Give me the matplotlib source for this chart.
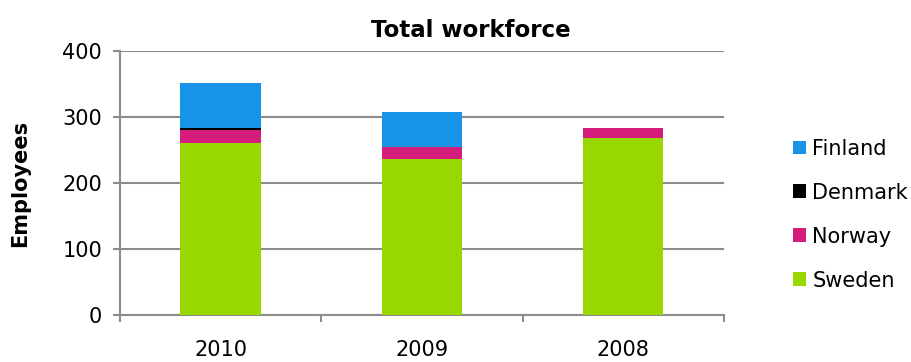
import matplotlib
matplotlib.use("Agg")
import matplotlib.pyplot as plt
import numpy as np

plt.rcParams["font.family"] = ["DejaVu Sans"]

years = ["2010", "2009", "2008"]
countries = ["Sweden", "Norway", "Denmark", "Finland"]
sweden = [260, 236, 269]
norway = [20, 18, 15]
denmark = [3, 0, 0]
finland = [68, 53, 0]
colors = ["#99D700", "#D41C7A", "#000000", "#1793E8"]

series = [sweden, norway, denmark, finland]
grid_col = "#8c8c8c"

fig = plt.figure(figsize=(9.12, 3.62), dpi=100)
ax = fig.add_axes([0.1316, 0.1298, 0.662, 0.729])

x = np.arange(len(years))
bottom = np.zeros(len(years))
handles = []
for name, vals, col in zip(countries, series, colors):
    h = ax.bar(x, vals, width=0.4, bottom=bottom, color=col, label=name, zorder=3)
    handles.append(h)
    bottom += np.array(vals)

ax.set_xlim(-0.5, 2.5)
ax.set_ylim(0, 400)
ax.set_yticks([0, 100, 200, 300, 400])
ax.yaxis.grid(True, color=grid_col, linewidth=1.5, zorder=0)
ax.set_axisbelow(True)

# category boundaries carry the tick marks, labels sit between them
ax.set_xticks([-0.5, 0.5, 1.5, 2.5])
ax.set_xticklabels([])
ax.set_xticks(x, minor=True)
ax.set_xticklabels(years, minor=True)
ax.tick_params(axis="x", which="minor", length=0, pad=18, labelsize=15)
ax.tick_params(axis="x", which="major", length=5, width=1.5, color=grid_col, direction="out")
ax.tick_params(axis="y", length=5, width=1.5, color=grid_col, labelsize=15, pad=8)

for s in ["top", "right"]:
    ax.spines[s].set_visible(False)
for s in ["left", "bottom"]:
    ax.spines[s].set_color(grid_col)
    ax.spines[s].set_linewidth(1.5)

ax.set_ylabel("Employees", fontsize=15, fontweight="bold")
ax.yaxis.set_label_coords(-0.149, 0.5)

fig.text(0.516, 1 - 37 / 362, "Total workforce", fontsize=16.5, fontweight="bold",
         ha="center", va="baseline")

leg = ax.legend(handles[::-1], countries[::-1], loc="center left",
                bbox_to_anchor=(1.083, 0.38), frameon=False, fontsize=15,
                handlelength=0.65, handleheight=0.65, handletextpad=0.3,
                labelspacing=1.15)

fig.savefig("out.png", dpi=100)
